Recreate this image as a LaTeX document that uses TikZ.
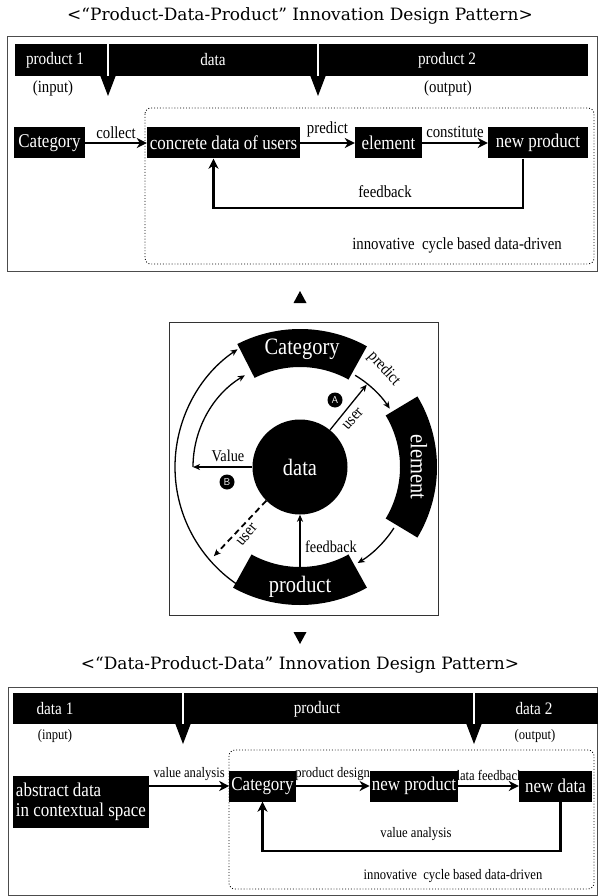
\documentclass[tikz,border=0pt]{standalone}
\usepackage{fontspec}
\setmainfont{Liberation Serif}
\newfontfamily\cond[FakeStretch=0.87]{Liberation Serif}
\newfontfamily\titlefont{DejaVu Serif}
\usetikzlibrary{arrows.meta,positioning}

\begin{document}
\begin{tikzpicture}[x=1pt,y=-1pt,
	blk/.style={fill=black,text=white,font=\cond\fontsize{19.5}{20}\selectfont,minimum height=31pt,inner sep=2pt},
	band/.style={text=white,font=\cond\fontsize{17.5}{18}\selectfont},
	sml/.style={font=\cond\fontsize{17}{17}\selectfont},
	smlb/.style={font=\cond\fontsize{14.5}{15}\selectfont},
	mid/.style={font=\cond\fontsize{16.5}{17}\selectfont},
	ttl/.style={font=\titlefont\fontsize{17}{17}\selectfont},
	arr/.style={line width=2.2pt,-{Stealth[length=10pt,width=10pt,inset=3pt]}},
	thin/.style={line width=1.3pt,-{Stealth[length=7pt,width=6pt,inset=2pt]}},
	seg/.style={text=white,font=\cond\fontsize{23.5}{24}\selectfont},
	tag/.style={circle,fill=black,text=white,inner sep=0pt,minimum size=15pt,font=\sffamily\fontsize{10}{10}\selectfont}]

\useasboundingbox (0,0) rectangle (599,896);

\node[ttl] (t1) at (300,16) {<“Product-Data-Product” Innovation Design Pattern>};
\draw[black!70,line width=1pt] (7,37) rectangle (597,271);
\fill (15,44) rectangle (588,76);
\fill (100,75) -- (116,75) -- (108,96) -- cycle;
\fill (310,75) -- (326,75) -- (318,96) -- cycle;
\draw[white,line width=1.2pt] (108,44) -- (108,76) (318,44) -- (318,76);
\node[band] (b1) at (55,60) {product 1};
\node[band] (b2) at (213,60) {data};
\node[band] (b3) at (447,60) {product 2};
\node[sml] (in1) at (53,88) {(input)};
\node[sml] (out1) at (448,88) {(output)};
\draw[dotted,line width=0.9pt,rounded corners=6pt] (145,108) rectangle (594,264);

\node[blk,minimum width=71pt] (cat1) at (49.5,143) {Category};
\node[blk,minimum width=153pt] (cd) at (223.5,143) {concrete data of users};
\node[blk,minimum width=67pt] (el1) at (388.5,143) {element};
\node[blk,minimum width=100pt] (np1) at (538,143) {new product};
\draw[arr] (cat1) -- (cd) node[sml,midway,above=0pt] {collect};
\draw[arr] (cd) -- (el1) node[sml,midway,above=1pt] {predict};
\draw[arr] (el1) -- (np1) node[sml,midway,above=1pt] {constitute};
\draw[arr] ([xshift=-15pt]np1.south) -- ++(0,49) -| ([xshift=-10pt]cd.south);
\node[sml] (fb1) at (385,192) {feedback};
\node[sml] (cyc1) at (457,245) {innovative\ \ cycle based data-driven};

\fill (293.5,303) -- (306.5,303) -- (300,291) -- cycle;
\draw[black!80,line width=0.8pt] (169,322) rectangle (438,615);
\begin{scope}[shift={(300,467)}]
\fill (61:100pt) arc[start angle=61,end angle=117,radius=100pt] -- (117:138pt) arc[start angle=117,end angle=61,radius=138pt] -- cycle;
\fill (-31:100pt) arc[start angle=-31,end angle=31,radius=100pt] -- (31:137pt) arc[start angle=31,end angle=-31,radius=137pt] -- cycle;
\fill (-119:100pt) arc[start angle=-119,end angle=-61,radius=100pt] -- (-61:138pt) arc[start angle=-61,end angle=-119,radius=138pt] -- cycle;
\node[seg] (catseg) at (89:118pt) {Category};
\node[seg,rotate=-90] (elseg) at (0:119pt) {element};
\node[seg] (prseg) at (-90:120pt) {product};
\node[circle,fill=black,minimum size=95pt,inner sep=0pt,seg] (dat) at (0,0) {data};
\draw[thin] (59:107pt) arc[start angle=59,end angle=33,radius=107pt];
\draw[thin] (-33:112pt) arc[start angle=-33,end angle=-59,radius=112pt];
\draw[thin] ([shift={(17,0)}]236:142pt) arc[start angle=236,end angle=124,radius=142pt];
\draw[thin] (180:107pt) arc[start angle=180,end angle=121,radius=107pt];
\draw[thin] (dat.west) -- (180:107pt);
\draw[thin] (dat.51) -- (51:106pt);
\draw[thin,line width=1.8pt,dash pattern=on 6pt off 4pt] (dat.225) -- (226:124pt);
\draw[thin] (-90:100pt) -- (dat.south);
\node[mid,rotate=-48] (lp) at (84,-98) {predict};
\node[mid,rotate=48] (lu1) at (53,-48) {user};
\node[tag] (ta) at (35,-67) {A};
\node[mid] (lv) at (-72,-11) {Value};
\node[tag] (tb) at (-73,15) {B};
\node[mid,rotate=50] (lu2) at (-53,68) {user};
\node[mid] (lf) at (31,80) {feedback};
\end{scope}
\fill (293.5,632) -- (306.5,632) -- (300,644) -- cycle;

\node[ttl] (t2) at (300,665) {<“Data-Product-Data” Innovation Design Pattern>};
\draw[black!70,line width=1pt] (8,687) rectangle (597,895);
\fill (13,693) rectangle (598,724);
\fill (175,723) -- (191,723) -- (183,744) -- cycle;
\fill (466,723) -- (482,723) -- (474,744) -- cycle;
\draw[white,line width=1.2pt] (183,693) -- (183,724) (474,693) -- (474,724);
\node[band] (c1) at (55,709) {data 1};
\node[band] (c2) at (317,709) {product};
\node[band] (c3) at (534,709) {data 2};
\node[smlb] (in2) at (55,736) {(input)};
\node[smlb] (out2) at (535,736) {(output)};
\draw[dotted,line width=0.9pt,rounded corners=6pt] (229,750) rectangle (594,889);

\node[blk,minimum width=136pt,minimum height=52pt,align=left] (abs) at (81,802) {abstract data\\in contextual space};
\node[blk,minimum width=63pt] (cat2) at (262.5,786) {Category};
\node[blk,minimum width=88pt] (np2) at (414,786) {new product};
\node[blk,minimum width=73pt] (nd2) at (555.5,786) {new data};
\draw[arr] (abs.east |- cat2) -- (cat2) node[smlb,midway,above=1pt] {value analysis};
\draw[arr] (cat2) -- (np2) node[smlb,midway,above=1pt] {product design};
\draw[arr] (np2) -- (nd2) node[smlb,midway,above=1pt] {data feedback};
\draw[arr] ([xshift=5pt]nd2.south) -- ++(0,49) -| (cat2.south);
\node[smlb] (va2) at (416,834) {value analysis};
\node[smlb] (cyc2) at (453,876) {innovative\ \ cycle based data-driven};
\end{tikzpicture}
\end{document}
